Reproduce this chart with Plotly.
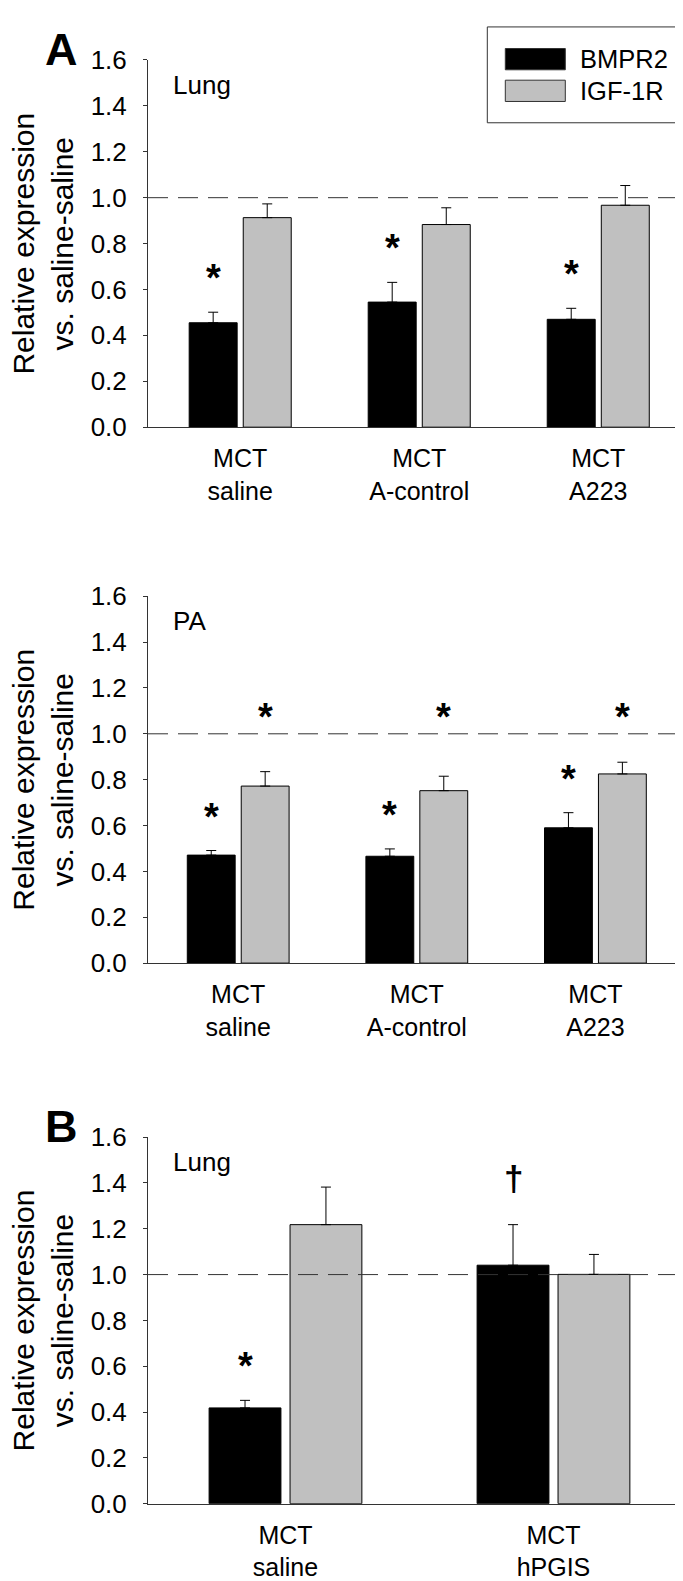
import plotly.graph_objects as go

# ---------------- data ----------------
cats_A = ["MCT<br>saline", "MCT<br>A-control", "MCT<br>A223"]
cats_B = ["MCT<br>saline", "MCT<br>hPGIS"]

lung_bmpr2 = [0.455, 0.545, 0.470]
lung_bmpr2_err = [0.046, 0.086, 0.048]
lung_igf = [0.913, 0.883, 0.967]
lung_igf_err = [0.060, 0.073, 0.086]

pa_bmpr2 = [0.471, 0.466, 0.590]
pa_bmpr2_err = [0.020, 0.032, 0.066]
pa_igf = [0.772, 0.752, 0.825]
pa_igf_err = [0.063, 0.063, 0.051]

b_bmpr2 = [0.418, 1.041]
b_bmpr2_err = [0.033, 0.177]
b_igf = [1.218, 1.001]
b_igf_err = [0.164, 0.087]

series_names = ["BMPR2", "IGF-1R"]
y_ticks = [0.0, 0.2, 0.4, 0.6, 0.8, 1.0, 1.2, 1.4, 1.6]
reference_level = 1.0

# ---------------- style / layout ----------------
W, H = 683, 1581
FONT = "Liberation Sans, Arial, sans-serif"
BLACK = "#000000"
GREY = "#c0c0c0"
AXC = "#333333"
TICK_FS = 26
CAT_FS = 25
TITLE_FS = 30
LAB_FS = 26
LEG_FS = 25.5

X_L, X_R = 140, 676
panels_px = [(37.7, 412.0), (584.3, 958.3), (1135.7, 1509.3)]
x_ranges = [[-0.515, 2.479], [-0.505, 2.496], [-0.513, 1.487]]

BAR_W = 0.268
OFF_B = -0.285
OFF_G = 0.017


def fx(px):
    return px / W


def fy(py):
    return 1 - py / H


fig = go.Figure()

panel_data = [
    (cats_A, lung_bmpr2, lung_bmpr2_err, lung_igf, lung_igf_err),
    (cats_A, pa_bmpr2, pa_bmpr2_err, pa_igf, pa_igf_err),
    (cats_B, b_bmpr2, b_bmpr2_err, b_igf, b_igf_err),
]

annotations = []
shapes = []

for i, (cats, bm, bme, ig, ige) in enumerate(panel_data):
    sfx = "" if i == 0 else str(i + 1)
    xa, ya = "x" + sfx, "y" + sfx
    xs = list(range(len(cats)))
    for vals, errs, col, off in ((bm, bme, BLACK, OFF_B), (ig, ige, GREY, OFF_G)):
        fig.add_trace(go.Bar(
            x=xs, y=vals, width=BAR_W, offset=off,
            marker=dict(color=col, line=dict(color=BLACK, width=1)),
            error_y=dict(type="data", symmetric=False, array=errs,
                         arrayminus=[0] * len(vals), color=BLACK,
                         thickness=1, width=5),
            xaxis=xa, yaxis=ya, showlegend=False, hoverinfo="skip",
        ))
    top, bot = panels_px[i]
    fig.layout["xaxis" + sfx] = dict(
        domain=[fx(X_L), fx(X_R)], anchor=ya, range=x_ranges[i],
        tickmode="array", tickvals=xs, ticktext=cats,
        ticks="", showline=True, linecolor=AXC, linewidth=1,
        showgrid=False, zeroline=False,
        tickfont=dict(family=FONT, size=CAT_FS, color="black"),
        ticklabelstandoff=9, fixedrange=True,
    )
    fig.layout["yaxis" + sfx] = dict(
        domain=[fy(bot), fy(top)], anchor=xa, range=[0, 1.6],
        tickmode="array", tickvals=y_ticks,
        ticktext=[f"{v:.1f}" for v in y_ticks],
        ticks="outside", ticklen=4, tickcolor=AXC, tickwidth=1,
        showline=True, linecolor=AXC, linewidth=1,
        showgrid=False, zeroline=False,
        tickfont=dict(family=FONT, size=TICK_FS, color="black"),
        ticklabelstandoff=11, fixedrange=True,
    )
    # dashed reference line
    shapes.append(dict(type="line", xref=xa + " domain", yref=ya,
                       x0=0, x1=(682 - X_L) / (X_R - X_L),
                       y0=reference_level, y1=reference_level,
                       line=dict(color=AXC, width=1, dash="20px,10px"),
                       layer="above"))
    # y title
    annotations.append(dict(
        xref="paper", yref="paper", x=fx(35), y=fy((top + bot) / 2),
        text="Relative expression<br>vs. saline-saline", textangle=-90,
        showarrow=False, xanchor="center", yanchor="middle", align="center",
        font=dict(family=FONT, size=TITLE_FS, color="black")))

# panel text labels
panel_labels = ["Lung", "PA", "Lung"]
for i, lab in enumerate(panel_labels):
    sfx = "" if i == 0 else str(i + 1)
    annotations.append(dict(
        xref="x" + sfx + " domain", yref="y" + sfx,
        x=(163 - X_L) / (X_R - X_L), y=1.49, text=lab, showarrow=False,
        xanchor="left", yanchor="middle",
        font=dict(family=FONT, size=LAB_FS, color="black")))

# panel letters
for lab, (top, bot) in (("A", panels_px[0]), ("B", panels_px[2])):
    annotations.append(dict(
        xref="paper", yref="paper", x=fx(53), y=fy(top - 11),
        text="<b>" + lab + "</b>", showarrow=False,
        xanchor="center", yanchor="middle",
        font=dict(family=FONT, size=45, color="black")))

# significance markers
STAR_SIZE = 38
bm_center = OFF_B + BAR_W / 2
ig_center = OFF_G + BAR_W / 2


def star(sfx, x, y, txt="*", shift=34, size=STAR_SIZE):
    annotations.append(dict(
        xref="x" + sfx, yref="y" + sfx, x=x, y=y, yshift=shift,
        text="<b>" + txt + "</b>", showarrow=False,
        xanchor="center", yanchor="middle",
        font=dict(family=FONT, size=size, color="black")))


for j in range(3):
    star("", j + bm_center, lung_bmpr2[j] + lung_bmpr2_err[j])
    star("2", j + bm_center, pa_bmpr2[j] + pa_bmpr2_err[j])
    star("2", j + ig_center, 1.075, shift=0)
star("3", 0 + bm_center, b_bmpr2[0] + b_bmpr2_err[0])
star("3", 1 + bm_center, b_bmpr2[1] + b_bmpr2_err[1], txt="†", shift=46, size=35)

# legend (drawn in paper space)
shapes.append(dict(type="rect", xref="paper", yref="paper",
                   x0=fx(479.3), x1=fx(678), y0=fy(101.7), y1=fy(4),
                   line=dict(color=AXC, width=1), fillcolor="white"))
for (name, col, top, bot, cy) in ((series_names[0], BLACK, 26, 47.7, 36.9),
                                  (series_names[1], GREY, 58.3, 80, 69.2)):
    shapes.append(dict(type="rect", xref="paper", yref="paper",
                       x0=fx(497.3), x1=fx(557.3), y0=fy(bot), y1=fy(top),
                       line=dict(color=AXC, width=1), fillcolor=col))
    annotations.append(dict(xref="paper", yref="paper", x=fx(570), y=fy(cy),
                            text=name, showarrow=False, xanchor="left",
                            yanchor="middle",
                            font=dict(family=FONT, size=LEG_FS, color="black")))

fig.update_layout(
    width=W, height=H, autosize=False,
    margin=dict(l=0, r=0, t=0, b=0),
    paper_bgcolor="white", plot_bgcolor="white",
    barmode="overlay",
    annotations=annotations, shapes=shapes,
    font=dict(family=FONT, color="black"),
)

fig.write_html("out.html")
